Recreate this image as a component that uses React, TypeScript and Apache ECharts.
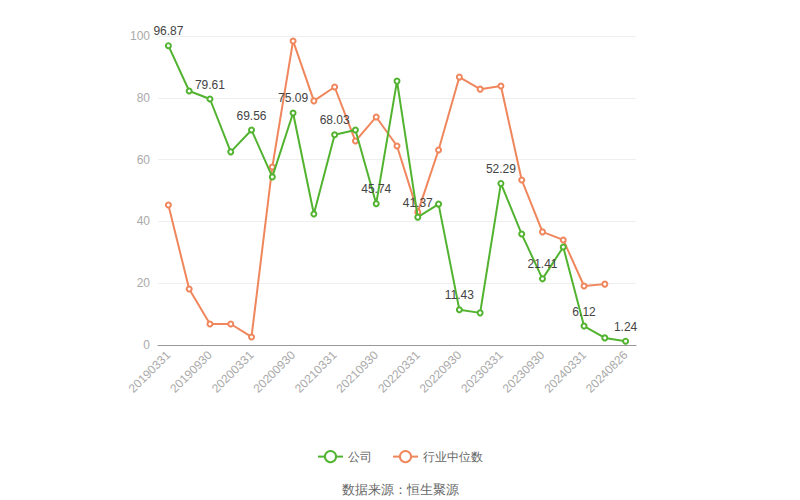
import React, { useEffect, useRef } from "react";
import * as echarts from "echarts";

const categories = [
  "20190331", "20190630", "20190930", "20191231", "20200331", "20200630",
  "20200930", "20201231", "20210331", "20210630", "20210930", "20211231",
  "20220331", "20220630", "20220930", "20221231", "20230331", "20230630",
  "20230930", "20231231", "20240331", "20240630", "20240826",
];

const companyValues = [
  96.87, 82.2, 79.61, 62.5, 69.56, 54.4, 75.09, 42.4, 68.03, 69.6, 45.74, 85.4,
  41.37, 45.6, 11.43, 10.4, 52.29, 35.9, 21.41, 31.7, 6.12, 2.3, 1.24,
];

const industryValues: (number | null)[] = [
  45.3, 18.1, 6.8, 6.8, 2.6, 57.6, 98.4, 79.0, 83.5, 66.0, 73.8, 64.4,
  43.0, 63.1, 86.7, 82.8, 83.8, 53.4, 36.6, 34.0, 19.1, 19.7, null,
];

const yTicks = [0, 20, 40, 60, 80, 100];

const seriesNames = ["公司", "行业中位数"];
const sourceText = "数据来源：恒生聚源";

export default function App() {
  const ref = useRef<HTMLDivElement>(null);
  useEffect(() => {
    if (!ref.current) return;
    const chart = echarts.init(ref.current, null, { renderer: "svg" });
    const green = "#52b330";
    const orange = "#f0865c";
    chart.setOption({
      animation: false,
      grid: { left: 158, right: 164, top: 36, bottom: 155 },
      legend: {
        top: 445,
        left: "center",
        itemGap: 20,
        itemWidth: 25,
        itemHeight: 14,
        textStyle: { color: "#666", fontSize: 12 },
        data: seriesNames,
      },
      xAxis: {
        type: "category",
        data: categories,
        boundaryGap: true,
        axisLine: { lineStyle: { color: "#999" } },
        axisTick: { alignWithLabel: true, interval: 1, lineStyle: { color: "#999" } },
        axisLabel: { interval: 1, rotate: 45, color: "#aaa", fontSize: 12 },
      },
      yAxis: {
        type: "value",
        min: yTicks[0],
        max: yTicks[yTicks.length - 1],
        interval: 20,
        axisLine: { show: false },
        axisTick: { show: false },
        axisLabel: { color: "#aaa", fontSize: 12 },
        splitLine: { lineStyle: { color: "#eee" } },
      },
      series: [
        {
          name: seriesNames[0],
          type: "line",
          data: companyValues,
          symbol: "emptyCircle",
          symbolSize: 5,
          itemStyle: { color: green },
          lineStyle: { width: 2, color: green },
          z: 3,
          label: {
            show: true,
            position: "top",
            color: "#444",
            fontSize: 12,
            formatter: (p: any) => (p.dataIndex % 2 === 0 ? p.value.toFixed(2) : ""),
          },
        },
        {
          name: seriesNames[1],
          type: "line",
          data: industryValues,
          symbol: "emptyCircle",
          symbolSize: 5,
          itemStyle: { color: orange },
          lineStyle: { width: 2, color: orange },
          z: 2,
        },
      ],
      graphic: [
        {
          type: "text",
          left: "center",
          top: 483,
          style: { text: sourceText, fill: "#666", fontSize: 13 },
        },
      ],
    });
    return () => chart.dispose();
  }, []);
  return (
    <div
      ref={ref}
      style={{ position: "absolute", left: 0, top: 0, width: 800, height: 500 }}
    />
  );
}
